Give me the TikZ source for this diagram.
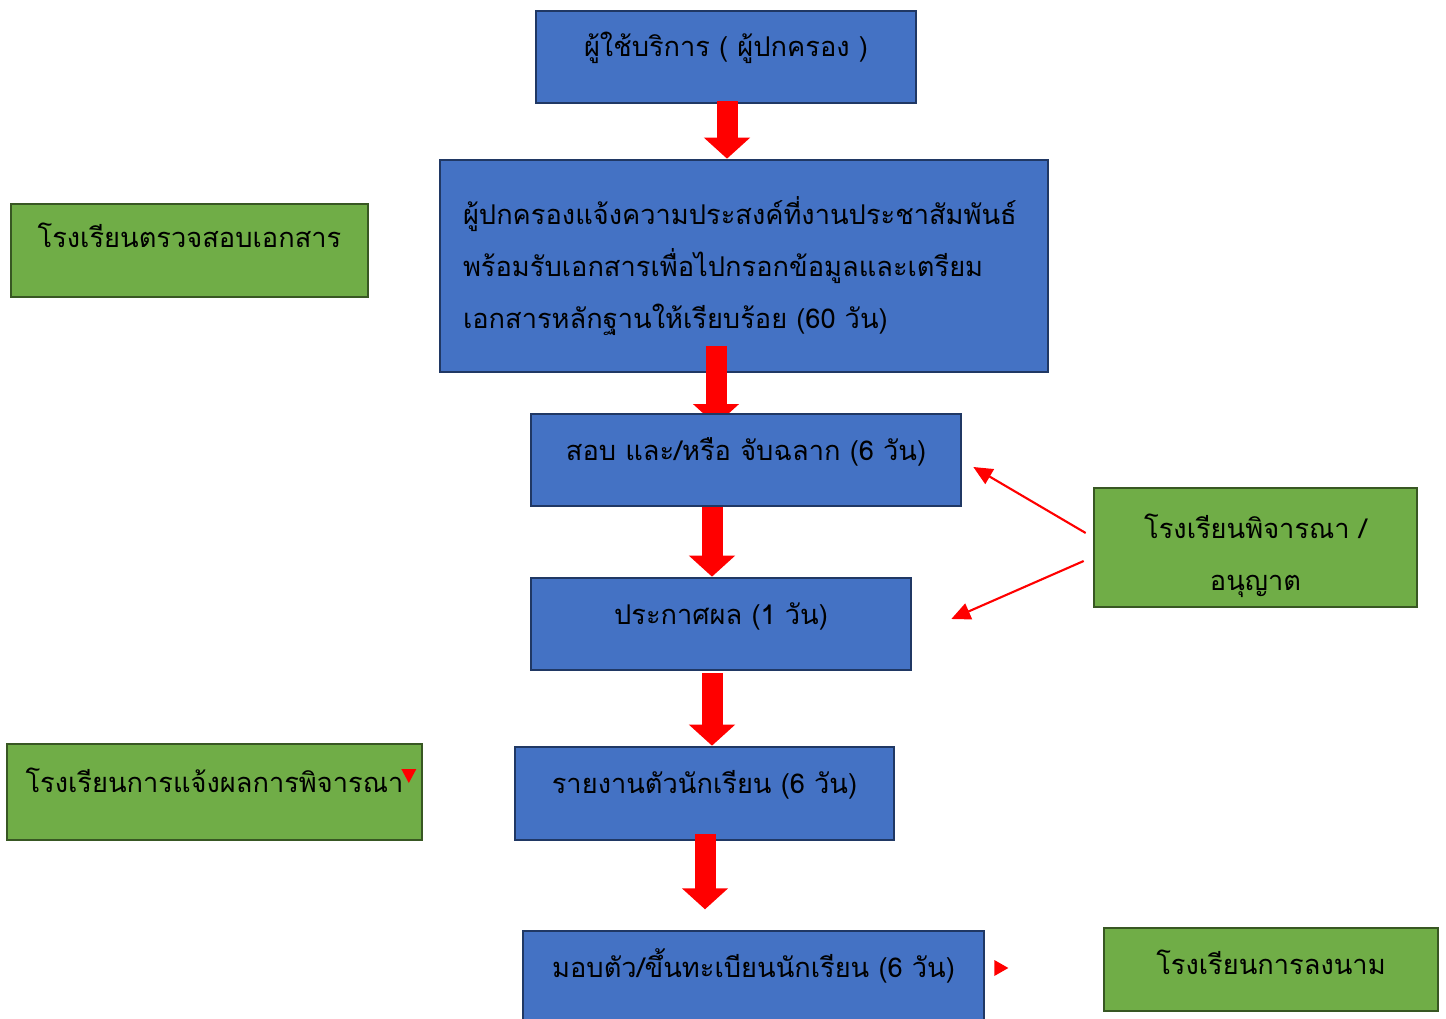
\documentclass[tikz,border=0pt]{standalone}
\usepackage{fontspec}
\setmainfont{Loma}[Script=Thai]
\usetikzlibrary{arrows.meta,calc}
\definecolor{boxblue}{HTML}{4472C4}
\definecolor{boxblueline}{HTML}{203864}
\definecolor{boxgreen}{HTML}{70AD47}
\definecolor{boxgreenline}{HTML}{385723}

\begin{document}
\begin{tikzpicture}[
    bluebox/.style={draw=boxblueline, line width=1.5pt, fill=boxblue, minimum height=1.84cm, inner sep=0pt},
    greenbox/.style={draw=boxgreenline, line width=1.5pt, fill=boxgreen, inner sep=0pt},
    oneline/.style={text height=0.32cm, text depth=0.32cm},
    bigarrow/.style={red, line width=0.42cm, -{Triangle[width=0.9cm,length=0.42cm]}},
    thinarrow/.style={red, line width=1.2pt, -{Triangle[width=0.34cm,length=0.38cm]}},
    font=\fontsize{15.5}{29.6}\selectfont
]
        \useasboundingbox (0,0) rectangle (28.92,-20.38);

        % Main steps
        \node[bluebox, oneline, minimum width=7.6cm] (user) at (14.52,-1.14) {ผู้ใช้บริการ ( ผู้ปกครอง )};
        \node[bluebox, minimum width=12.16cm, minimum height=4.24cm, text width=11.24cm, align=left, inner xsep=0.46cm] (request) at (14.88,-5.32)
            {ผู้ปกครองแจ้งความประสงค์ที่งานประชาสัมพันธ์\\พร้อมรับเอกสารเพื่อไปกรอกข้อมูลและเตรียม\\เอกสารหลักฐานให้เรียบร้อย (60 วัน)};
        \draw[bigarrow] ($(user.south)+(0.02,0.06)$) -- ($(request.north -| user.south)+(0.02,0)$);
        \coordinate (examtip) at (14.32,-8.5);
        \draw[bigarrow] ($(request.south -| examtip)+(0,0.54)$) -- (examtip);
        \node[bluebox, oneline, minimum width=8.6cm] (exam) at (14.92,-9.2) {สอบ และ/หรือ จับฉลาก (6 วัน)};
        \node[bluebox, oneline, minimum width=7.6cm] (announce) at (14.42,-12.48) {ประกาศผล (1 วัน)};
        \node[bluebox, oneline, minimum width=7.58cm, minimum height=1.86cm] (report) at (14.09,-15.87) {รายงานตัวนักเรียน (6 วัน)};
        \node[bluebox, oneline, minimum width=9.22cm] (enrol) at (15.07,-19.54) {มอบตัว/ขึ้นทะเบียนนักเรียน (6 วัน)};

        % Arrows between steps
        \draw[bigarrow] ($(exam.south)+(-0.68,0)$) -- ($(announce.north -| exam.south)+(-0.68,0)$);
        \draw[bigarrow] ($(announce.south)+(-0.18,-0.04)$) -- ($(report.north -| announce.south)+(-0.18,0)$);
        \draw[bigarrow] ($(report.south)+(0.01,0.14)$) -- ($(report.south)+(0.01,-1.36)$);

        % School side
        \node[greenbox, oneline, minimum width=7.14cm, minimum height=1.86cm] (check) at (3.79,-5.01) {\raisebox{0.06cm}{โรงเรียนตรวจสอบเอกสาร}};
        \node[greenbox, minimum width=6.46cm, minimum height=2.38cm, align=center] (consider) at (25.11,-10.95) {\\[-0.2cm]โรงเรียนพิจารณา /\\อนุญาต};
        \node[greenbox, oneline, minimum width=8.3cm, minimum height=1.92cm] (notify) at (4.29,-15.84) {โรงเรียนการแจ้งผลการพิจารณา};
        \node[greenbox, oneline, minimum width=6.68cm, minimum height=1.66cm] (sign) at (25.42,-19.39) {\raisebox{-0.1cm}{โรงเรียนการลงนาม}};

        % Thin arrows
        \draw[thinarrow] ($(consider.west)+(-0.14,0.29)$) -- ($(exam.east)+(0.22,-0.14)$);
        \draw[thinarrow] ($(consider.west)+(-0.18,-0.27)$) -- ($(announce.east)+(0.78,0.1)$);

        % Small marks
        \fill[red] ($(notify.east)+(-0.44,0.46)$) -- ++(0.3,0) -- ++(-0.15,-0.28) -- cycle;
        \fill[red] ($(enrol.east)+(0.18,0.34)$) -- ++(0,-0.32) -- ++(0.28,0.16) -- cycle;
\end{tikzpicture}
\end{document}
